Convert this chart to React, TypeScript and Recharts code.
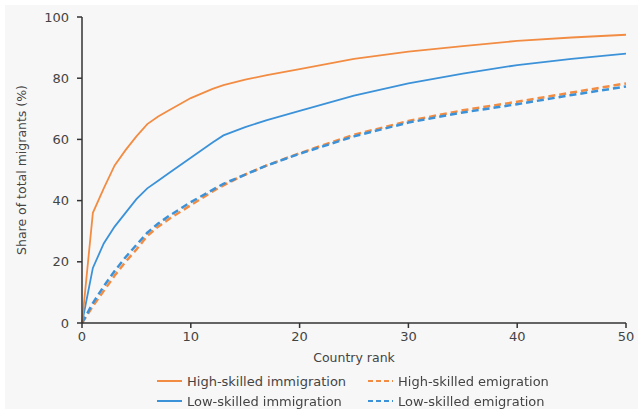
import React from 'react';
import { LineChart, Line, XAxis, YAxis } from 'recharts';

const ranks = [0, 1, 2, 3, 4, 5, 6, 7, 8, 10, 12, 13, 15, 17, 20, 25, 30, 35, 40, 45, 50];
const highImmigration = [0, 36, 44, 51.5, 56.5, 61, 65, 67.5, 69.5, 73.5, 76.5, 77.7, 79.5, 81, 83, 86.3, 88.7, 90.5, 92.2, 93.3, 94.2];
const lowImmigration = [0, 18, 26, 31.5, 36, 40.5, 44, 46.5, 49, 54, 59, 61.3, 64, 66.3, 69.3, 74.3, 78.3, 81.5, 84.3, 86.3, 88];
const highEmigration = [0, 5.5, 10.5, 15.5, 20, 24, 28.5, 31.5, 34, 38.5, 43, 45, 48.5, 51.5, 55.5, 61.5, 66, 69.5, 72.3, 75.3, 78.3];
const lowEmigration = [0, 6.5, 12, 17, 21.5, 25.5, 29.5, 32.5, 35, 39.5, 43.5, 45.5, 48.5, 51.5, 55.3, 61, 65.5, 68.8, 71.5, 74.5, 77.3];

const xTicks = [0, 10, 20, 30, 40, 50];
const yTicks = [0, 20, 40, 60, 80, 100];

const ORANGE = '#f28c43';
const BLUE = '#3c92d8';
const FONT = '"DejaVu Sans", sans-serif';

const data = ranks.map((r, i) => ({
  rank: r,
  highImm: highImmigration[i],
  lowImm: lowImmigration[i],
  highEmi: highEmigration[i],
  lowEmi: lowEmigration[i],
}));

const legendItems = [
  { label: 'High-skilled immigration', color: ORANGE, dashed: false, left: 157, top: 372 },
  { label: 'High-skilled emigration', color: ORANGE, dashed: true, left: 368, top: 372 },
  { label: 'Low-skilled immigration', color: BLUE, dashed: false, left: 157, top: 392 },
  { label: 'Low-skilled emigration', color: BLUE, dashed: true, left: 368, top: 392 },
];

export default function App() {
  const tickStyle = { fill: '#444', fontSize: 13, fontFamily: FONT };
  return (
    <div style={{ position: 'fixed', top: 0, left: 0, width: 638, height: 409, background: '#fff', fontFamily: FONT }}>
      <div style={{ position: 'absolute', left: 5, top: 5, right: 0, bottom: 0, background: '#f7f7f7' }} />
      <div style={{ position: 'absolute', left: 0, top: 0 }}>
        <LineChart width={638} height={409} data={data} margin={{ top: 17, right: 12, left: 0, bottom: 36 }}>
          <XAxis
            dataKey="rank"
            type="number"
            domain={[0, 50]}
            ticks={xTicks}
            tick={tickStyle}
            tickSize={5}
            tickMargin={4}
            height={50}
            stroke="#333"
            strokeWidth={1.5}
            label={{ value: 'Country rank', position: 'insideTop', offset: 30, style: { fill: '#444', fontSize: 12.5, fontFamily: FONT } }}
          />
          <YAxis
            type="number"
            domain={[0, 100]}
            ticks={yTicks}
            tick={tickStyle}
            tickSize={5}
            tickMargin={8}
            width={82}
            stroke="#333"
            strokeWidth={1.5}
            label={{ value: 'Share of total migrants (%)', angle: -90, position: 'insideLeft', offset: 22, style: { textAnchor: 'middle', fill: '#444', fontSize: 12.5, fontFamily: FONT } }}
          />
          <Line type="linear" dataKey="highEmi" stroke={ORANGE} strokeWidth={2.5} strokeDasharray="7 4" dot={false} isAnimationActive={false} />
          <Line type="linear" dataKey="lowEmi" stroke={BLUE} strokeWidth={2.5} strokeDasharray="7 4" dot={false} isAnimationActive={false} />
          <Line type="linear" dataKey="lowImm" stroke={BLUE} strokeWidth={1.8} dot={false} isAnimationActive={false} />
          <Line type="linear" dataKey="highImm" stroke={ORANGE} strokeWidth={1.8} dot={false} isAnimationActive={false} />
        </LineChart>
      </div>
      {legendItems.map((it) => (
        <div key={it.label} style={{ position: 'absolute', left: it.left, top: it.top, height: 18, display: 'flex', alignItems: 'center', fontSize: 13, color: '#444' }}>
          <svg width={26} height={18} style={{ marginRight: 4 }}>
            <line x1={0} y1={9} x2={25} y2={9} stroke={it.color} strokeWidth={2} strokeDasharray={it.dashed ? '5 3' : undefined} />
          </svg>
          <span>{it.label}</span>
        </div>
      ))}
    </div>
  );
}
